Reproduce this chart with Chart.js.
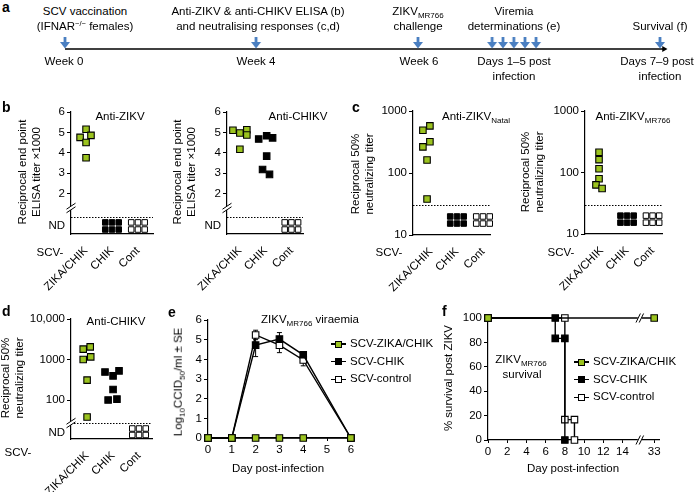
<!DOCTYPE html>
<html>
<head>
<meta charset="utf-8">
<script src="https://cdn.jsdelivr.net/npm/chart.js@4.4.1/dist/chart.umd.min.js"></script>
<style>
body { margin: 0; background: #fff; }
#fig { position: relative; width: 696px; height: 492px; overflow: hidden; font-family: 'Liberation Sans', Arial, Helvetica, sans-serif; color: #000; }
#fig canvas { position: absolute; }
.t { position: absolute; white-space: nowrap; font-size: 11.5px; line-height: 1; transform: translate(-50%, -50%); }
.t sub { font-size: 8px; vertical-align: baseline; position: relative; top: 3px; }
.t sup { font-size: 7.5px; vertical-align: baseline; position: relative; top: -4px; }
.t.left { transform: translate(0, -50%); }
.t.rot { transform: translate(-50%, -50%) rotate(-90deg); text-align: center; line-height: 13.5px; }
.t.lett { transform: none; font-weight: bold; font-size: 14px; }
.sw { position: absolute; }
</style>
</head>
<body>
<div id="fig"></div>
<script>
const green = '#9bc31f';
const groups = ['ZIKA/CHIK', 'CHIK', 'Cont'];
const ndCols = [-0.26, 0, 0.26]; // six mice below detection, drawn as a 2x3 block

// a: schematic timeline, sampling arrows along the schedule
const timelineX = [0, 10, 18.48, 22.36, 22.93, 23.5, 24.08, 24.66, 31.15];
const timelineEnd = 31.36;

// b: reciprocal end point ELISA titre (x1000)
const elisaZikvZC = [4.75, 5.15, 4.85, 4.5, 3.75];
const elisaZikvZCSpread = [-0.23, 0, 0.19, 0, 0];
const elisaChikvZC = [5.1, 4.97, 5.13, 4.87, 4.17];
const elisaChikvZCSpread = [-0.27, 0, 0.27, 0.27, 0];
const elisaChikvCHIK = [4.67, 4.83, 4.73, 3.83, 3.17, 2.93];
const elisaChikvCHIKSpread = [-0.27, 0.04, 0.27, 0.04, -0.12, 0.15];
const elisaTicks = [0.39, 2, 3, 4, 5, 6];
const elisaTickLabels = ['ND', '2', '3', '4', '5', '6'];
const elisaLimit = 0.84;
const elisaNDRows = [0.57, 0.22];

// c: reciprocal 50% neutralising titre against ZIKV
const natalZC = [490, 575, 264, 320, 162, 38];
const natalZCSpread = [-0.31, -0.04, -0.31, -0.04, -0.15, -0.15];
const mr766ZC = [213, 162, 115, 79, 63, 55];
const mr766ZCSpread = [-0.1, -0.1, -0.1, -0.1, -0.22, 0.02];
const zikvNeutTicks = [10, 100, 1000];
const zikvNeutTickLabels = ['10', '100', '1000'];
const zikvNeutLimit = 30;
const zikvNeutNDRows = [19.9, 15.3];

// d: reciprocal 50% neutralising titre against CHIKV
const chikvNeutZC = [1800, 2050, 1000, 1160, 310, 38];
const chikvNeutZCSpread = [-0.15, 0.12, -0.15, 0.14, 0, 0];
const chikvNeutCHIK = [490, 395, 525, 182, 100, 105];
const chikvNeutCHIKSpread = [-0.31, 0, 0.23, 0, -0.19, 0.15];
const chikvNeutTicks = [15.5, 100, 1000, 10000];
const chikvNeutTickLabels = ['ND', '100', '1000', '10,000'];
const chikvNeutLimit = 27;
const chikvNeutNDRows = [19.8, 13.7];

// e: viraemia, log10 CCID50/ml +/- SE
const seriesNames = ['SCV-ZIKA/CHIK', 'SCV-CHIK', 'SCV-control'];
const seriesFills = [green, '#000', '#fff'];
const viraemiaDays = [0, 1, 2, 3, 4, 6];
const viraemiaZC = [0, 0, 0, 0, 0, 0];
const viraemiaCHIK = [0, 0, 4.72, 5.03, 4.23, 0];
const viraemiaCHIKSe = [0, 0, 0.58, 0.33, 0.1, 0];
const viraemiaCont = [0, 0, 5.24, 4.72, 3.97, 0];
const viraemiaContSe = [0, 0, 0.24, 0.38, 0.3, 0];

// f: % survival
const survZCDays = [0, 33];
const survZC = [100, 100];
const survCHIKDays = [0, 7, 7, 8, 8];
const survCHIK = [100, 100, 83.3, 83.3, 0];
const survContDays = [0, 8, 8, 9, 9];
const survCont = [100, 100, 16.7, 16.7, 0];
const survDayTicks = [0, 2, 4, 6, 8, 10, 12, 14, 33];

const fig = document.getElementById('fig');

Chart.defaults.font.family = "'Liberation Sans', Arial, Helvetica, sans-serif";
Chart.defaults.font.size = 11.5;
Chart.defaults.color = '#000';
Chart.defaults.animation = false;
Chart.defaults.responsive = false;
Chart.defaults.devicePixelRatio = 1;
Chart.defaults.plugins.legend.display = false;
Chart.defaults.plugins.tooltip.enabled = false;

function txt(html, x, y, cls) {
	const d = document.createElement('div');
	d.className = 't' + (cls ? ' ' + cls : '');
	d.innerHTML = html;
	d.style.left = x + 'px';
	d.style.top = y + 'px';
	fig.appendChild(d);
	return d;
}

function box(x, y, w, h, bg, border) {
	const d = document.createElement('div');
	d.className = 'sw';
	Object.assign(d.style, {
		left: x + 'px', top: y + 'px', width: w + 'px', height: h + 'px',
		background: bg, border: border || 'none', boxSizing: 'border-box',
	});
	fig.appendChild(d);
}

function addCanvas(left, top, width, height) {
	const canvas = document.createElement('canvas');
	canvas.width = width;
	canvas.height = height;
	canvas.style.left = left + 'px';
	canvas.style.top = top + 'px';
	fig.appendChild(canvas);
	return canvas;
}

// place a chart so that its plot area lands on the given box
function makeChart(area, yw, config) {
	const padTop = 12;
	const padRight = 14;
	const xh = 75;
	const canvas = addCanvas(area.l - yw, area.t - padTop, area.r - area.l + yw + padRight, area.b - area.t + padTop + xh);
	config.options.layout = { padding: { top: padTop, right: padRight, left: 0, bottom: 0 }, autoPadding: false };
	config.options.scales.y.afterFit = (s) => { s.width = yw; };
	config.options.scales.x.afterFit = (s) => { s.height = xh; };
	return new Chart(canvas, config);
}

function slashes(ctx, px, py, onVertical) {
	ctx.save();
	ctx.fillStyle = '#fff';
	ctx.strokeStyle = '#000';
	ctx.lineWidth = 1;
	if (onVertical) {
		ctx.fillRect(px - 2, py - 2, 4, 4);
		for (const d of [-1.8, 1.8]) {
			ctx.beginPath();
			ctx.moveTo(px - 4.5, py + d + 3);
			ctx.lineTo(px + 4.5, py + d - 3);
			ctx.stroke();
		}
	} else {
		ctx.fillRect(px - 2, py - 2, 4, 4);
		for (const d of [-1.6, 1.6]) {
			ctx.beginPath();
			ctx.moveTo(px + d - 2.2, py + 4.5);
			ctx.lineTo(px + d + 2.2, py - 4.5);
			ctx.stroke();
		}
	}
	ctx.restore();
}

// detection limit, error bars and axis breaks
function marks(spec) {
	return {
		id: 'marks',
		beforeDatasetsDraw(chart) {
			const { ctx, chartArea: a, scales: { x, y } } = chart;
			ctx.save();
			ctx.strokeStyle = '#000';
			ctx.lineWidth = 1;
			if (spec.limit !== undefined) {
				const py = Math.round(y.getPixelForValue(spec.limit)) + 0.5;
				ctx.setLineDash([1.5, 1.5]);
				ctx.beginPath();
				ctx.moveTo(a.left, py);
				ctx.lineTo(a.right, py);
				ctx.stroke();
				ctx.setLineDash([]);
			}
			for (const e of spec.errors || []) {
				e.se.forEach((s, i) => {
					if (!s) return;
					const px = x.getPixelForValue(e.x[i]);
					const top = y.getPixelForValue(e.y[i] + s);
					const bot = y.getPixelForValue(e.y[i] - s);
					ctx.beginPath();
					ctx.moveTo(px, top);
					ctx.lineTo(px, bot);
					ctx.moveTo(px - 2.5, top);
					ctx.lineTo(px + 2.5, top);
					ctx.moveTo(px - 2.5, bot);
					ctx.lineTo(px + 2.5, bot);
					ctx.stroke();
				});
			}
			ctx.restore();
		},
		afterDraw(chart) {
			const { ctx, chartArea: a, scales: { x, y } } = chart;
			if (spec.yBreak !== undefined) slashes(ctx, a.left, y.getPixelForValue(spec.yBreak), true);
			if (spec.xBreak !== undefined) {
				const px = x.getPixelForValue(spec.xBreak);
				slashes(ctx, px, a.bottom, false);
				for (const v of spec.xBreakAt || []) slashes(ctx, px, y.getPixelForValue(v), false);
			}
		},
	};
}

function points(values, spread, group, fill) {
	return {
		data: values.map((v, i) => ({ x: group + spread[i], y: v })),
		pointStyle: 'rect', pointRadius: 4.6, pointBackgroundColor: fill,
		pointBorderColor: '#000', pointBorderWidth: 1.1, clip: false,
	};
}

function ndBlock(group, rows, fill) {
	const data = [];
	for (const r of rows) for (const c of ndCols) data.push({ x: group + c, y: r });
	return {
		data, pointStyle: 'rect', pointRadius: 3.9, pointBackgroundColor: fill,
		pointBorderColor: '#000', pointBorderWidth: 1, clip: false,
	};
}

function groupAxis(min, max) {
	return {
		type: 'linear', min, max,
		afterBuildTicks: (s) => { s.ticks = groups.map((g, i) => ({ value: i })); },
		ticks: { callback: (v) => groups[v], minRotation: 45, maxRotation: 45, autoSkip: false, padding: 2 },
		grid: { display: false },
		border: { display: true, color: '#000', width: 1.2 },
	};
}

function valueAxis(type, min, max, ticks, labels, nd, tickLen) {
	return {
		type, min, max,
		afterBuildTicks: (s) => { s.ticks = ticks.map((v) => ({ value: v })); },
		ticks: { callback: (v, i) => labels[i], autoSkip: false, padding: 2, maxRotation: 0 },
		grid: {
			display: true, drawOnChartArea: false, drawTicks: true, tickLength: tickLen || 4, lineWidth: 1,
			tickColor: (c) => (c.tick && c.tick.value === nd ? 'rgba(0,0,0,0)' : '#000'),
		},
		border: { display: true, color: '#000', width: 1.2 },
	};
}

function dotPlot(area, yw, xr, yAxis, datasets, spec) {
	return makeChart(area, yw, {
		type: 'scatter',
		data: { datasets },
		options: { scales: { x: groupAxis(xr[0], xr[1]), y: yAxis } },
		plugins: [marks(spec)],
	});
}

// ---- a: timeline ----
const arrowImg = document.createElement('canvas');
arrowImg.width = 12;
arrowImg.height = 24;
(() => {
	const c = arrowImg.getContext('2d');
	c.fillStyle = '#4a7fc1';
	c.fillRect(4.6, 0, 2.8, 5.5);
	c.beginPath();
	c.moveTo(1, 5);
	c.lineTo(11, 5);
	c.lineTo(6, 11.5);
	c.closePath();
	c.fill();
})();

new Chart(addCanvas(55, 30, 625, 30), {
	type: 'scatter',
	data: {
		datasets: [
			{ data: timelineX.map((x) => ({ x, y: 0 })), pointStyle: arrowImg, pointRadius: 5, clip: false },
			{
				data: [{ x: 0, y: 0 }, { x: timelineEnd, y: 0 }], showLine: true, borderColor: '#000', borderWidth: 1.4,
				pointStyle: 'triangle', pointRotation: 90, pointRadius: [0, 3.5], pointBackgroundColor: '#000',
				pointBorderColor: '#000', pointBorderWidth: 0, clip: false,
			},
		],
	},
	options: {
		layout: { padding: { left: 10, right: 16, top: 10, bottom: 2 }, autoPadding: false },
		scales: { x: { display: false, min: 0, max: timelineEnd }, y: { display: false, min: -1, max: 1 } },
	},
});

// ---- b ----
dotPlot({ l: 71, t: 112, r: 153, b: 234 }, 40, [-0.58, 2.58],
	valueAxis('linear', 0, 6, elisaTicks, elisaTickLabels, elisaTicks[0]),
	[points(elisaZikvZC, elisaZikvZCSpread, 0, green), ndBlock(1, elisaNDRows, '#000'), ndBlock(2, elisaNDRows, '#fff')],
	{ limit: elisaLimit, yBreak: 1.28 });

dotPlot({ l: 227, t: 112, r: 303, b: 234 }, 40, [-0.5, 2.45],
	valueAxis('linear', 0, 6, elisaTicks, elisaTickLabels, elisaTicks[0]),
	[points(elisaChikvZC, elisaChikvZCSpread, 0, green), points(elisaChikvCHIK, elisaChikvCHIKSpread, 1, '#000'), ndBlock(2, elisaNDRows, '#fff')],
	{ limit: elisaLimit, yBreak: 1.28 });

// ---- c ----
dotPlot({ l: 413, t: 111, r: 490, b: 235 }, 40, [-0.69, 2.27],
	valueAxis('logarithmic', 10, 1000, zikvNeutTicks, zikvNeutTickLabels),
	[points(natalZC, natalZCSpread, 0, green), ndBlock(1, zikvNeutNDRows, '#000'), ndBlock(2, zikvNeutNDRows, '#fff')],
	{ limit: zikvNeutLimit });

dotPlot({ l: 585, t: 111, r: 662, b: 234 }, 40, [-0.65, 2.37],
	valueAxis('logarithmic', 10, 1000, zikvNeutTicks, zikvNeutTickLabels),
	[points(mr766ZC, mr766ZCSpread, 0, green), ndBlock(1, zikvNeutNDRows, '#000'), ndBlock(2, zikvNeutNDRows, '#fff')],
	{ limit: zikvNeutLimit });

// ---- d ----
dotPlot({ l: 71, t: 319, r: 152, b: 439 }, 45, [-0.62, 2.5],
	valueAxis('logarithmic', 10.9, 10000, chikvNeutTicks, chikvNeutTickLabels, chikvNeutTicks[0]),
	[points(chikvNeutZC, chikvNeutZCSpread, 0, green), points(chikvNeutCHIK, chikvNeutCHIKSpread, 1, '#000'), ndBlock(2, chikvNeutNDRows, '#fff')],
	{ limit: chikvNeutLimit, yBreak: chikvNeutLimit });

// ---- e ----
function series(xs, ys, fill) {
	return {
		data: xs.map((x, i) => ({ x, y: ys[i] })), showLine: true, borderColor: '#000', borderWidth: 1.4,
		pointStyle: 'rect', pointRadius: 4.6, pointBackgroundColor: fill, pointBorderColor: '#000',
		pointBorderWidth: 1.1, clip: false,
	};
}

const dayTicksE = [0, 1, 2, 3, 4, 5, 6];
makeChart({ l: 208, t: 320, r: 353, b: 438 }, 22, {
	type: 'scatter',
	data: {
		datasets: [
			series(viraemiaDays, viraemiaZC, seriesFills[0]),
			series(viraemiaDays, viraemiaCHIK, seriesFills[1]),
			series(viraemiaDays, viraemiaCont, seriesFills[2]),
		],
	},
	options: {
		scales: {
			x: valueAxis('linear', 0, 6.09, dayTicksE, dayTicksE.map(String), undefined, 3),
			y: valueAxis('linear', 0, 6, [0, 1, 2, 3, 4, 5, 6], ['0', '1', '2', '3', '4', '5', '6']),
		},
	},
	plugins: [marks({
		errors: [
			{ x: viraemiaDays, y: viraemiaCHIK, se: viraemiaCHIKSe },
			{ x: viraemiaDays, y: viraemiaCont, se: viraemiaContSe },
		],
	})],
});

// ---- f ----
const breakDay = 16;
const fx = (d) => (d <= breakDay ? d : breakDay + (d - breakDay) * (1.3 / 17));
makeChart({ l: 488, t: 318, r: 659, b: 440 }, 30, {
	type: 'scatter',
	data: {
		datasets: [
			series(survZCDays.map(fx), survZC, seriesFills[0]),
			series(survCHIKDays.map(fx), survCHIK, seriesFills[1]),
			series(survContDays.map(fx), survCont, seriesFills[2]),
		],
	},
	options: {
		scales: {
			x: valueAxis('linear', 0, 17.8, survDayTicks.map(fx), survDayTicks.map(String), undefined, 3),
			y: valueAxis('linear', 0, 100, [0, 20, 40, 60, 80, 100], ['0', '20', '40', '60', '80', '100']),
		},
	},
	plugins: [marks({ xBreak: 15.8, xBreakAt: [100] })],
});

// ---- text ----
txt('a', 2, 0, 'lett');
txt('b', 2, 100, 'lett');
txt('c', 352, 100, 'lett');
txt('d', 2, 304, 'lett');
txt('e', 168, 305, 'lett');
txt('f', 442, 304, 'lett');

txt('SCV vaccination', 85, 12);
txt('(IFNAR<sup>−/−</sup> females)', 85, 27);
txt('Anti-ZIKV &amp; anti-CHIKV ELISA (b)', 258, 12);
txt('and neutralising responses (c,d)', 258, 27);
txt('ZIKV<sub>MR766</sub>', 418, 12);
txt('challenge', 418, 27);
txt('Viremia', 514, 12);
txt('determinations (e)', 514, 27);
txt('Survival (f)', 660, 27);
txt('Week 0', 64, 62);
txt('Week 4', 256, 62);
txt('Week 6', 419, 62);
txt('Days 1–5 post', 514, 62);
txt('infection', 514, 77);
txt('Days 7–9 post', 657, 62);
txt('infection', 660, 77);

txt('Reciprocal end point<br>ELISA titer ×1000', 29, 172, 'rot');
txt('Reciprocal end point<br>ELISA titer ×1000', 184, 172, 'rot');
txt('Anti-ZIKV', 120, 117);
txt('Anti-CHIKV', 298, 117);
txt('SCV-', 50, 253);

txt('Reciprocal 50%<br>neutralizing titer', 362, 174, 'rot');
txt('Reciprocal 50%<br>neutralizing titer', 532, 172, 'rot');
txt('Anti-ZIKV<sub>Natal</sub>', 476, 117);
txt('Anti-ZIKV<sub>MR766</sub>', 633, 117);
txt('SCV-', 389, 253);
txt('SCV-', 561, 253);

txt('Reciprocal 50%<br>neutralizing titer', 12, 378, 'rot');
txt('Anti-CHIKV', 116, 322);
txt('SCV-', 18, 453);

txt('Log<sub>10</sub>CCID<sub>50</sub>/ml ± SE', 179, 382, 'rot');
txt('ZIKV<sub>MR766</sub> viraemia', 310, 320);
txt('Day post-infection', 278, 469);

txt('% survival post ZIKV', 449, 378, 'rot');
txt('ZIKV<sub>MR766</sub>', 521, 360);
txt('survival', 522, 375);
txt('Day post-infection', 573, 469);

function legend(cx, y0, dy, textX) {
	seriesNames.forEach((name, i) => {
		const y = y0 + i * dy;
		box(cx - 7.5, y - 0.65, 15, 1.3, '#000');
		box(cx - 3.5, y - 3.5, 7, 7, seriesFills[i], '1px solid #000');
		txt(name, textX, y, 'left');
	});
}
legend(338, 344, 17.7, 350);
legend(581, 362, 17.7, 593);
</script>
</body>
</html>
